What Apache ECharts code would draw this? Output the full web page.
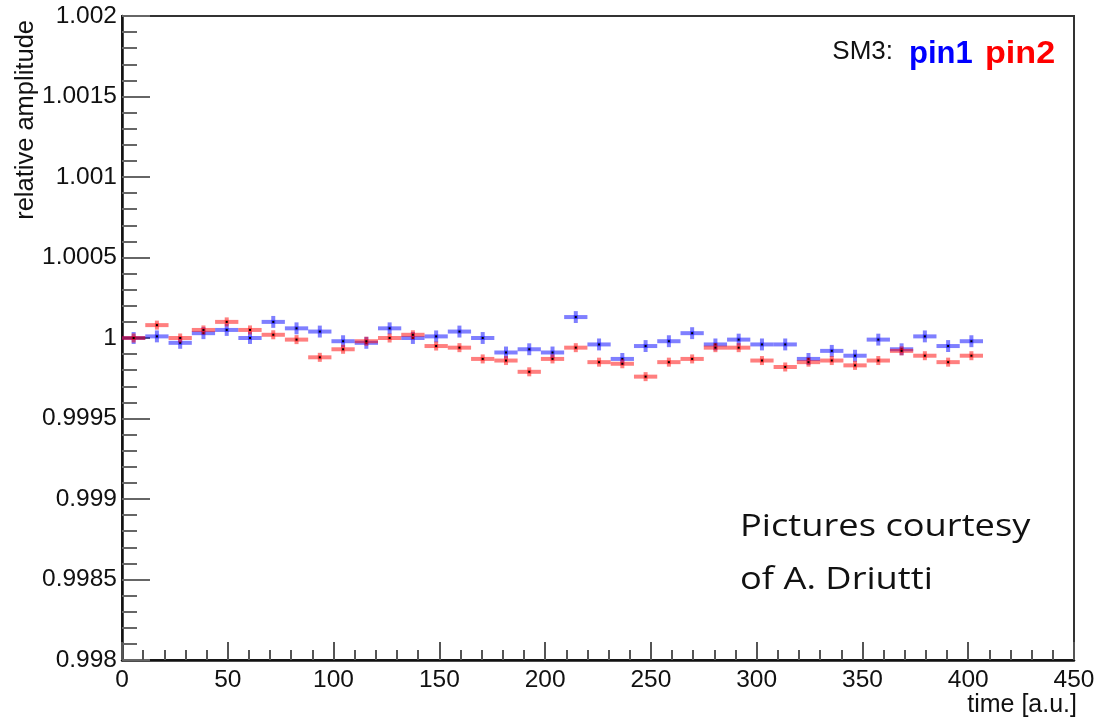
<!DOCTYPE html>
<html>
<head>
<meta charset="utf-8">
<script src="https://cdn.jsdelivr.net/npm/echarts@6/dist/echarts.min.js"></script>
<style>
  html, body { margin: 0; padding: 0; background: #fff; }
  #chart { width: 1107px; height: 718px; }
</style>
</head>
<body>
<div id="chart"></div>
<script>
// bin centres (time, a.u.)
const times = [5.5, 16.5, 27.5, 38.5, 49.5, 60.5, 71.5, 82.5, 93.5, 104.5, 115.5, 126.5, 137.5,
  148.5, 159.5, 170.5, 181.5, 192.5, 203.5, 214.5, 225.5, 236.5, 247.5, 258.5, 269.5, 280.5,
  291.5, 302.5, 313.5, 324.5, 335.5, 346.5, 357.5, 368.5, 379.5, 390.5, 401.5];
// relative amplitude
const pin1 = [1.00000, 1.00001, 0.99997, 1.00003, 1.00005, 1.00000, 1.00010, 1.00006, 1.00004,
  0.99998, 0.99997, 1.00006, 1.00000, 1.00001, 1.00004, 1.00000, 0.99991, 0.99993, 0.99991,
  1.00013, 0.99996, 0.99987, 0.99995, 0.99998, 1.00003, 0.99996, 0.99999, 0.99996, 0.99996,
  0.99987, 0.99992, 0.99989, 0.99999, 0.99993, 1.00001, 0.99995, 0.99998];
const pin2 = [1.00000, 1.00008, 1.00000, 1.00005, 1.00010, 1.00005, 1.00002, 0.99999, 0.99988,
  0.99993, 0.99998, 1.00000, 1.00002, 0.99995, 0.99994, 0.99987, 0.99986, 0.99979, 0.99987,
  0.99994, 0.99985, 0.99984, 0.99976, 0.99985, 0.99987, 0.99994, 0.99994, 0.99986, 0.99982,
  0.99985, 0.99986, 0.99983, 0.99986, 0.99992, 0.99989, 0.99985, 0.99989];
const binHalf = 5.5;
const pin1Err = 0.000037;
const pin2Err = 0.000028;

const font = "'Liberation Sans', Arial, Helvetica, sans-serif";

let toData = (vals, err) => vals.map((v, i) => [times[i], v, binHalf, err]);

// draws a ROOT style error cross with a small black dot at the centre
let crossRenderer = (color) => (params, api) => {
  let x = api.value(0), y = api.value(1), ex = api.value(2), ey = api.value(3);
  let l = api.coord([x - ex, y]), r = api.coord([x + ex, y]);
  let t = api.coord([x, y + ey]), b = api.coord([x, y - ey]);
  let c = api.coord([x, y]);
  let st = { stroke: color, lineWidth: 4 };
  return {
    type: "group",
    children: [
      { type: "line", shape: { x1: l[0], y1: l[1], x2: r[0], y2: r[1] }, style: st },
      { type: "line", shape: { x1: t[0], y1: t[1], x2: b[0], y2: b[1] }, style: st },
      { type: "rect", shape: { x: c[0] - 1, y: c[1] - 1, width: 2, height: 2 }, style: { fill: "#000" } },
    ],
  };
};

let chart = echarts.init(document.getElementById("chart"));
chart.setOption({
  animation: false,
  grid: {
    left: 122, right: 33, top: 16, bottom: 58,
    show: true, borderColor: "#333", borderWidth: 2, backgroundColor: "#fff",
  },
  xAxis: {
    type: "value", min: 0, max: 450, interval: 50,
    axisLine: { lineStyle: { color: "#111", width: 2.5 } },
    axisTick: { inside: true, length: 18, lineStyle: { color: "#555", width: 2 } },
    minorTick: { show: true, splitNumber: 5, length: 10, lineStyle: { color: "#555", width: 2 } },
    splitLine: { show: false },
    axisLabel: { color: "#111", fontSize: 24.5, fontFamily: font, margin: 8 },
  },
  yAxis: {
    type: "value", min: 0.998, max: 1.002, interval: 0.0005,
    axisLine: { lineStyle: { color: "#111", width: 2.5 } },
    axisTick: { inside: true, length: 28, lineStyle: { color: "#666", width: 2 } },
    minorTick: { show: true, splitNumber: 5, length: 15, lineStyle: { color: "#666", width: 2 } },
    splitLine: { show: false },
    axisLabel: {
      color: "#111", fontSize: 24.5, fontFamily: font, margin: 5,
      formatter: (v) => String(parseFloat(v.toFixed(4))),
    },
  },
  series: [
    { type: "custom", name: "pin1", renderItem: crossRenderer("rgba(0,0,255,0.5)"), data: toData(pin1, pin1Err), z: 2 },
    { type: "custom", name: "pin2", renderItem: crossRenderer("rgba(255,0,0,0.5)"), data: toData(pin2, pin2Err), z: 3 },
  ],
  graphic: [
    {
      type: "text", x: 26, y: 20, rotation: Math.PI / 2,
      style: { text: "relative amplitude", font: "25.5px " + font, fill: "#111", align: "right", verticalAlign: "middle" },
    },
    {
      type: "text", x: 1077, y: 705,
      style: { text: "time [a.u.]", font: "25px " + font, fill: "#111", align: "right", verticalAlign: "middle" },
    },
    {
      type: "text", x: 893, y: 52,
      style: { text: "SM3:", font: "26px " + font, fill: "#111", align: "right", verticalAlign: "middle" },
    },
    {
      type: "text", x: 909, y: 54,
      style: { text: "pin1", font: "bold 31px " + font, fill: "#0000ff", align: "left", verticalAlign: "middle" },
    },
    {
      type: "text", x: 985, y: 54, scaleX: 1.1,
      style: { text: "pin2", font: "bold 31px " + font, fill: "#ff0000", align: "left", verticalAlign: "middle" },
    },
    {
      type: "text", x: 740, y: 527, scaleX: 1.17,
      style: { text: "Pictures courtesy", font: "31px 'Open Sans', sans-serif", fill: "#111", verticalAlign: "middle" },
    },
    {
      type: "text", x: 740, y: 580, scaleX: 1.17,
      style: { text: "of A. Driutti", font: "31px 'Open Sans', sans-serif", fill: "#111", verticalAlign: "middle" },
    },
  ],
});
</script>
</body>
</html>
